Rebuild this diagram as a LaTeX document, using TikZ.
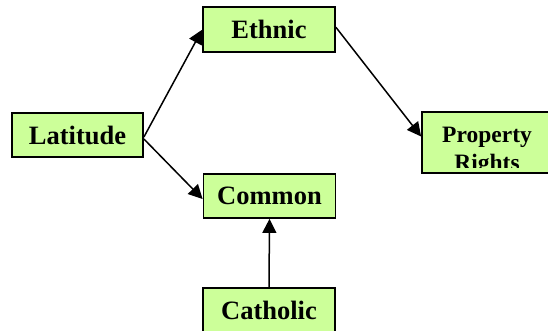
\documentclass[tikz,border=0pt]{standalone}
\usepackage{fontspec}
\setmainfont{Liberation Serif}
\usetikzlibrary{arrows.meta}
\definecolor{boxgreen}{RGB}{204,255,153}
\tikzset{
  box/.style={draw=black, line width=1.8pt, fill=boxgreen, inner sep=0pt,
    minimum width=131pt, minimum height=44pt,
    font=\fontsize{26.5}{30}\selectfont\bfseries},
  proptxt/.style={font=\fontsize{23.5}{28}\selectfont\bfseries, anchor=base, inner sep=0pt},
  conn/.style={line width=1.5pt, -{Triangle[length=14pt,width=14pt]}}
}
\begin{document}
\begin{tikzpicture}[x=1pt,y=-1pt]
\useasboundingbox (0,0) rectangle (548,330);
\node[box] (lat) at (77.5,135) {Latitude};
\node[box, minimum width=132pt, minimum height=45pt] (eth) at (269,29.75) {Ethnic};
\node[box, minimum width=132pt] (com) at (269.5,196) {Common};
\node[box, minimum width=132pt] (cat) at (269,310) {Catholic};
\node[box, minimum width=130pt, minimum height=61pt] (prop) at (487,142.5) {};
\begin{scope}
  \clip ([xshift=1pt,yshift=-1pt]prop.north west) rectangle ([yshift=6pt]prop.south east);
  \node[proptxt] (proptop) at (487,142.3) {Property};
  \node[proptxt] (propbot) at (487,170.3) {Rights};
\end{scope}
\draw[conn] ([yshift=-2pt]lat.east) -- (eth.west);
\draw[conn] ([yshift=-4pt]lat.east) -- ([yshift=-3pt]com.west);
\draw[conn] ([yshift=2.5pt]eth.east) -- ([yshift=6pt]prop.west);
\draw[conn] (cat.north) -- (com.south);
\end{tikzpicture}
\end{document}
